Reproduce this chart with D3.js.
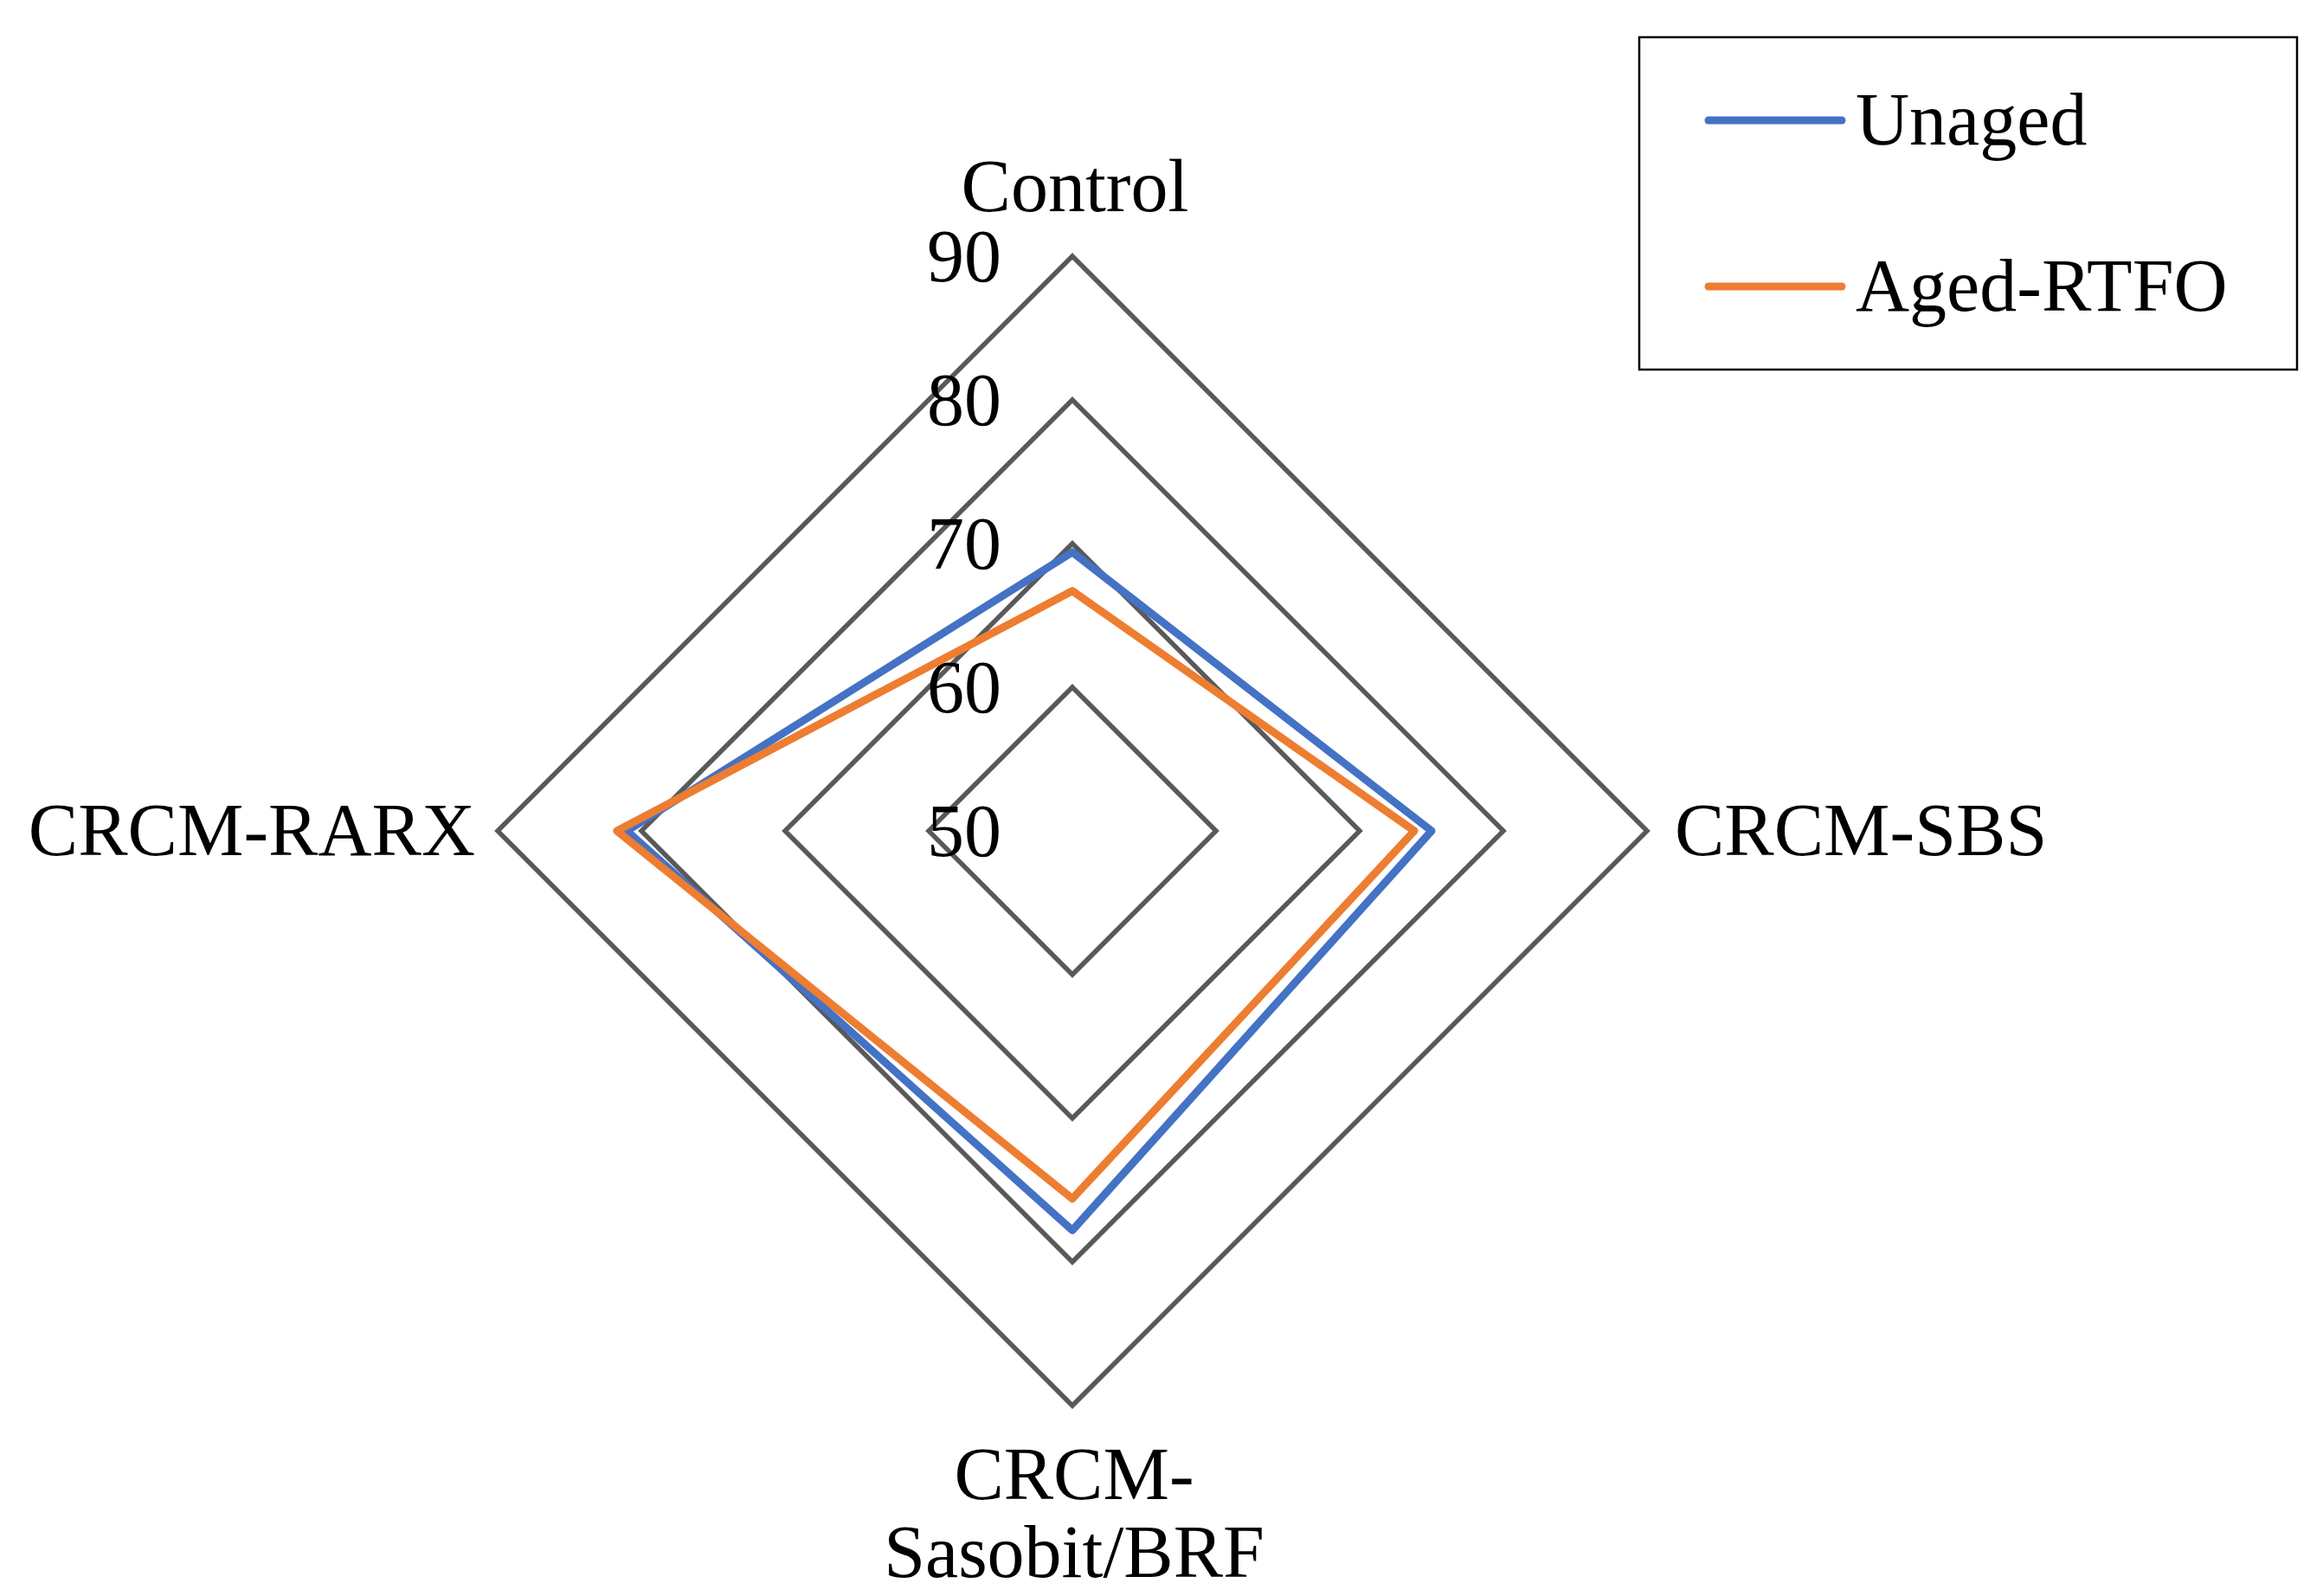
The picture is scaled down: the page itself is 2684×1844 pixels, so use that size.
<!DOCTYPE html>
<html>
<head>
<meta charset="utf-8">
<script src="https://cdn.jsdelivr.net/npm/d3@7"></script>
<style>
  html, body { margin: 0; padding: 0; background: #fff; }
  svg { display: block; }
  text { font-family: "Liberation Serif", "Times New Roman", serif; fill: #000; }
</style>
</head>
<body>
<svg id="chart" width="2684" height="1844"></svg>
<script>
const categories = ["Control", "CRCM-SBS", "CRCM-Sasobit/BRF", "CRCM-RARX"];
const categoryLines = [["Control"], ["CRCM-SBS"], ["CRCM-", "Sasobit/BRF"], ["CRCM-RARX"]];
const seriesNames = ["Unaged", "Aged-RTFO"];
const unaged = [69.4, 75.0, 77.8, 81.0];
const agedRTFO = [66.7, 73.8, 75.6, 81.7];
const tickValues = [50, 60, 70, 80, 90];
const colors = ["#4472C4", "#ED7D31"];

const svg = d3.select("#chart");
const cx = 1239, cy = 960, R = 664;
const fontSize = 86;

const r = d3.scaleLinear().domain([50, 90]).range([0, R]);
const ang = i => -Math.PI / 2 + i * 2 * Math.PI / categories.length;
const pt = (i, v) => [cx + r(v) * Math.cos(ang(i)), cy + r(v) * Math.sin(ang(i))];

const line = d3.line().curve(d3.curveLinearClosed);

// grid rings
svg.append("g").selectAll("path")
  .data(tickValues.filter(t => t > 50))
  .join("path")
  .attr("d", t => line(categories.map((c, i) => pt(i, t))))
  .attr("fill", "none")
  .attr("stroke", "#595959")
  .attr("stroke-width", 5.5)
  .attr("stroke-linejoin", "miter");

// tick labels
svg.append("g").selectAll("text")
  .data(tickValues)
  .join("text")
  .attr("x", cx - 82)
  .attr("y", t => cy - r(t) + 29)
  .attr("text-anchor", "end")
  .attr("font-size", fontSize)
  .text(t => t);

// series
const series = [unaged, agedRTFO];
svg.append("g").selectAll("path")
  .data(series)
  .join("path")
  .attr("d", s => line(s.map((v, i) => pt(i, v))))
  .attr("fill", "none")
  .attr("stroke", (s, k) => colors[k])
  .attr("stroke-width", 9)
  .attr("stroke-linejoin", "round");

// category labels
const labelPos = [
  { x: cx + 3, y: cy - R - 52, anchor: "middle" },
  { x: cx + R + 32, y: cy + 28, anchor: "start" },
  { x: cx + 2, y: cy + R + 108, anchor: "middle" },
  { x: cx - R - 26, y: cy + 28, anchor: "end" }
];
const lg = svg.append("g");
categoryLines.forEach((lines, i) => {
  const t = lg.append("text")
    .attr("x", labelPos[i].x)
    .attr("y", labelPos[i].y)
    .attr("text-anchor", labelPos[i].anchor)
    .attr("font-size", fontSize);
  lines.forEach((l, j) => {
    t.append("tspan").attr("x", labelPos[i].x).attr("dy", j === 0 ? 0 : 90).text(l);
  });
});

// legend
const leg = svg.append("g");
leg.append("rect")
  .attr("x", 1894).attr("y", 43).attr("width", 760).attr("height", 384)
  .attr("fill", "#fff").attr("stroke", "#000").attr("stroke-width", 2.5);
seriesNames.forEach((name, k) => {
  const y = 139 + k * 192;
  leg.append("line")
    .attr("x1", 1974).attr("x2", 2128).attr("y1", y).attr("y2", y)
    .attr("stroke", colors[k]).attr("stroke-width", 9).attr("stroke-linecap", "round");
  leg.append("text")
    .attr("x", 2144).attr("y", y + 28)
    .attr("font-size", fontSize)
    .text(name);
});
</script>
</body>
</html>
